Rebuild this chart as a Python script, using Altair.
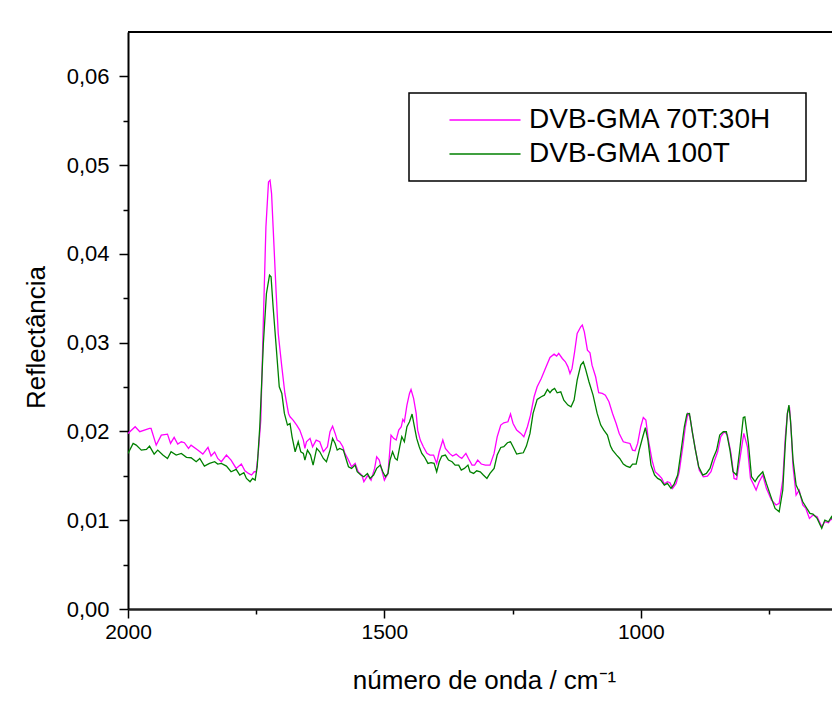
import altair as alt
import pandas as pd

series_names = ["DVB-GMA 70T:30H", "DVB-GMA 100T"]
series_colors = ["#ff00ff", "#008000"]

x_range = [2000, 627]
y_range = [0, 0.065]
x_ticks = [2000, 1750, 1500, 1250, 1000, 750]
y_ticks = [0, 0.005, 0.01, 0.015, 0.02, 0.025, 0.03, 0.035, 0.04, 0.045, 0.05, 0.055, 0.06]

wn_7030 = [2000, 1986, 1977, 1958, 1955, 1945, 1935, 1923, 1917, 1910, 1903, 1896, 1890, 1882, 1877, 1864, 1854, 1844, 1838, 1831, 1825, 1818, 1808, 1799, 1789, 1779,
           1772, 1765, 1759, 1754, 1750, 1746, 1741, 1736, 1731, 1726, 1723, 1720, 1717, 1711, 1707, 1700, 1694, 1687, 1684, 1678, 1671, 1665, 1658, 1655, 1652, 1645, 1640, 1633, 1626, 1619, 1611, 1606, 1601, 1596, 1592, 1587, 1581, 1577, 1570, 1564, 1557, 1551, 1544, 1540,
           1532, 1526, 1519, 1515, 1510, 1505, 1500, 1493, 1487, 1482, 1477, 1472, 1467, 1464, 1461, 1456, 1451, 1448, 1443, 1438, 1435, 1430, 1424, 1417, 1411, 1404, 1398, 1393, 1386, 1381, 1373, 1367, 1360, 1354, 1349, 1341, 1336, 1329, 1324, 1318, 1311, 1303, 1294,
           1286, 1280, 1273, 1267, 1259, 1254, 1249, 1242, 1234, 1228, 1221, 1215, 1208, 1202, 1194, 1186, 1177, 1169, 1164, 1160, 1153, 1147, 1142, 1138, 1134, 1129, 1124, 1117, 1114, 1110, 1104, 1099, 1095, 1088, 1082, 1075, 1069, 1062,
           1055, 1048, 1042, 1034, 1028, 1021, 1016, 1011, 1006, 1000, 995, 990, 985, 978, 972, 965, 959, 954, 948, 943, 938, 931, 925, 918, 913, 908, 904, 899, 892, 886, 878, 870, 863, 857, 850, 844, 837, 831, 824, 818,
           813, 807, 799, 792, 786, 781, 775, 769, 762, 755, 745, 736, 730, 723, 718, 714, 710, 707, 703, 697, 691, 684, 678, 671, 664, 656, 647, 641, 634, 628, 621, 615, 611]
refl_7030 = [0.01978, 0.02053, 0.01997, 0.02034, 0.02034, 0.01846, 0.01959, 0.01970, 0.01865, 0.01933, 0.01858, 0.01884, 0.01873, 0.01809, 0.01846, 0.01790, 0.01745, 0.01820, 0.01723, 0.01768, 0.01696, 0.01659, 0.01734, 0.01678, 0.01584, 0.01633,
             0.01557, 0.01527, 0.01509, 0.01546, 0.01546, 0.01753, 0.02128, 0.03254, 0.04305, 0.04811, 0.04830, 0.04680, 0.04305, 0.03554, 0.03104, 0.02728, 0.02428, 0.02203, 0.02165, 0.02128, 0.02072, 0.02015, 0.01903, 0.01809, 0.01884, 0.01922, 0.01828, 0.01903, 0.01884, 0.01771, 0.01828, 0.01997, 0.02060, 0.01978, 0.01903, 0.01884, 0.01828, 0.01753, 0.01678, 0.01603, 0.01640, 0.01546, 0.01509, 0.01434,
             0.01509, 0.01452, 0.01584, 0.01715, 0.01678, 0.01565, 0.01452, 0.01527, 0.01959, 0.01922, 0.01903, 0.02015, 0.02053, 0.02135, 0.02109, 0.02297, 0.02428, 0.02473, 0.02372, 0.02203, 0.02015, 0.01903, 0.01828, 0.01753, 0.01734, 0.01734, 0.01640, 0.01771, 0.01903, 0.01809, 0.01753, 0.01723, 0.01745, 0.01715, 0.01696, 0.01753, 0.01696, 0.01621, 0.01621, 0.01678, 0.01633, 0.01621, 0.01621,
             0.01753, 0.01940, 0.02072, 0.02098, 0.02109, 0.02196, 0.02090, 0.02015, 0.01978, 0.01940, 0.02053, 0.02184, 0.02391, 0.02503, 0.02597, 0.02710, 0.02834, 0.02871, 0.02849, 0.02879, 0.02822, 0.02785, 0.02728, 0.02653, 0.02710, 0.02897, 0.03104, 0.03179, 0.03198, 0.03122, 0.02916, 0.02886, 0.02747, 0.02616, 0.02436, 0.02428, 0.02409, 0.02334,
             0.02203, 0.02090, 0.01978, 0.01884, 0.01873, 0.01865, 0.01790, 0.01783, 0.01865, 0.02053, 0.02158, 0.02128, 0.01903, 0.01678, 0.01546, 0.01509, 0.01471, 0.01407, 0.01434, 0.01422, 0.01359, 0.01415, 0.01546, 0.01828, 0.02053, 0.02203, 0.02165, 0.01978, 0.01753, 0.01565, 0.01490, 0.01497, 0.01546, 0.01659, 0.01771, 0.01940, 0.01997, 0.01959, 0.01753, 0.01471,
             0.01460, 0.01678, 0.01978, 0.01828, 0.01471, 0.01415, 0.01340, 0.01434, 0.01509, 0.01359, 0.01227, 0.01171, 0.01190, 0.01452, 0.01940, 0.02203, 0.02278, 0.02053, 0.01603, 0.01284, 0.01340, 0.01171, 0.01133, 0.01021, 0.01058, 0.01040, 0.00927, 0.00983, 0.00972, 0.01021, 0.00946, 0.01040, 0.01040]

wn_100 = [2000, 1990, 1984, 1974, 1964, 1958, 1949, 1942, 1932, 1923, 1916, 1906, 1896, 1886, 1877, 1867, 1860, 1851, 1841, 1831, 1825, 1818, 1808, 1799, 1789, 1782, 1774,
          1769, 1762, 1757, 1752, 1748, 1743, 1736, 1730, 1724, 1721, 1717, 1711, 1705, 1700, 1695, 1689, 1684, 1680, 1674, 1668, 1663, 1658, 1655, 1650, 1644, 1639, 1632, 1626, 1619, 1613, 1606, 1601, 1596, 1592, 1587, 1580, 1575, 1570, 1564, 1557, 1553, 1546, 1540, 1533,
          1528, 1521, 1515, 1508, 1503, 1498, 1493, 1489, 1484, 1479, 1475, 1470, 1466, 1461, 1456, 1451, 1446, 1442, 1437, 1432, 1427, 1422, 1415, 1409, 1403, 1398, 1393, 1388, 1381, 1375, 1368, 1362, 1355, 1350, 1344, 1337, 1333, 1326, 1320, 1313, 1307, 1300, 1294,
          1286, 1280, 1273, 1267, 1260, 1254, 1249, 1242, 1236, 1229, 1223, 1216, 1210, 1202, 1194, 1188, 1182, 1177, 1173, 1168, 1163, 1156, 1150, 1142, 1136, 1130, 1124, 1117, 1112, 1108, 1101, 1093, 1085, 1078, 1072, 1065, 1059,
          1055, 1047, 1041, 1034, 1028, 1021, 1016, 1009, 1003, 996, 991, 986, 980, 973, 967, 961, 954, 948, 941, 935, 928, 922, 915, 910, 905, 900, 894, 887, 879, 872, 865, 859, 852, 846, 839, 833, 826, 820,
          813, 807, 800, 797, 790, 784, 777, 771, 762, 755, 745, 738, 730, 723, 718, 714, 711, 708, 703, 697, 691, 684, 678, 670, 664, 656, 647, 641, 634, 628, 621, 615, 611]
refl_100 = [0.01753, 0.01865, 0.01846, 0.01790, 0.01798, 0.01835, 0.01745, 0.01790, 0.01734, 0.01696, 0.01771, 0.01734, 0.01753, 0.01708, 0.01704, 0.01659, 0.01696, 0.01610, 0.01640, 0.01659, 0.01633, 0.01640, 0.01610, 0.01546, 0.01573, 0.01509, 0.01535,
            0.01471, 0.01434, 0.01471, 0.01452, 0.01603, 0.02053, 0.02991, 0.03554, 0.03760, 0.03742, 0.03404, 0.02954, 0.02503, 0.02428, 0.02203, 0.02072, 0.02090, 0.01940, 0.01771, 0.01884, 0.01771, 0.01753, 0.01678, 0.01790, 0.01734, 0.01621, 0.01809, 0.01771, 0.01696, 0.01659, 0.01790, 0.01922, 0.01865, 0.01790, 0.01809, 0.01790, 0.01696, 0.01603, 0.01584, 0.01621, 0.01546, 0.01509, 0.01490, 0.01527,
            0.01471, 0.01509, 0.01584, 0.01621, 0.01546, 0.01490, 0.01527, 0.01678, 0.01771, 0.01696, 0.01678, 0.01828, 0.01940, 0.01884, 0.02053, 0.02109, 0.02196, 0.02072, 0.01922, 0.01828, 0.01753, 0.01715, 0.01640, 0.01648, 0.01640, 0.01546, 0.01659, 0.01723, 0.01734, 0.01678, 0.01659, 0.01621, 0.01621, 0.01565, 0.01584, 0.01621, 0.01546, 0.01527, 0.01557, 0.01546, 0.01509, 0.01471, 0.01527,
            0.01584, 0.01734, 0.01820, 0.01828, 0.01873, 0.01884, 0.01828, 0.01745, 0.01753, 0.01760, 0.01835, 0.01978, 0.02203, 0.02361, 0.02391, 0.02409, 0.02473, 0.02436, 0.02466, 0.02484, 0.02436, 0.02447, 0.02353, 0.02297, 0.02278, 0.02353, 0.02578, 0.02747, 0.02785, 0.02710, 0.02560, 0.02409, 0.02203, 0.02072, 0.02015, 0.01959, 0.01835,
            0.01790, 0.01734, 0.01696, 0.01633, 0.01610, 0.01595, 0.01633, 0.01633, 0.01790, 0.01940, 0.02042, 0.01903, 0.01621, 0.01509, 0.01471, 0.01452, 0.01396, 0.01415, 0.01359, 0.01407, 0.01509, 0.01753, 0.02053, 0.02196, 0.02203, 0.02015, 0.01809, 0.01603, 0.01509, 0.01527, 0.01584, 0.01696, 0.01790, 0.01959, 0.01997, 0.01997, 0.01790, 0.01546,
            0.01509, 0.01790, 0.02158, 0.02165, 0.01865, 0.01490, 0.01434, 0.01490, 0.01546, 0.01415, 0.01246, 0.01133, 0.01096, 0.01340, 0.01865, 0.02203, 0.02297, 0.02128, 0.01678, 0.01396, 0.01321, 0.01208, 0.01152, 0.01077, 0.01070, 0.01021, 0.00908, 0.01002, 0.00983, 0.01040, 0.00927, 0.00983, 0.00946]

df_a = pd.DataFrame({"wn": wn_7030, "refl": refl_7030, "serie": series_names[0]})
df_b = pd.DataFrame({"wn": wn_100, "refl": refl_100, "serie": series_names[1]})

FONT = "Liberation Sans"
BLANK = "\u2800"

x_enc = alt.X(
    "wn:Q",
    scale=alt.Scale(domain=x_range, nice=False, zero=False),
    axis=alt.Axis(
        values=x_ticks,
        format="d",
        labelExpr="datum.value % 500 === 0 ? datum.label : ''",
        labelFlush=False,
        labelOverlap=False,
        tickSize={"condition": {"test": "datum.value % 500 === 0", "value": 9}, "value": 5},
        tickWidth=1.5,
        tickColor="black",
        domainColor="#222222",
        domainWidth=2.5,
        labelFontSize=21,
        labelColor="black",
        labelPadding=3,
        grid=False,
        title="número de onda / cm⁻¹",
        titleFontSize=26,
        titleFontWeight="normal",
        titleColor="black",
        titleX=356,
        titleY=79,
        titleBaseline="alphabetic",
        titleAlign="center",
    ),
)

y_test = "abs(datum.value * 100 - round(datum.value * 100)) < 0.000001"
y_enc = alt.Y(
    "refl:Q",
    scale=alt.Scale(domain=y_range, nice=False, zero=True),
    axis=alt.Axis(
        values=y_ticks,
        labelExpr=f"{y_test} ? replace(format(datum.value, '.2f'), '.', ',') : ''",
        labelFlush=False,
        labelOverlap=False,
        tickSize={"condition": {"test": y_test, "value": 9}, "value": 5},
        tickWidth=1.5,
        tickColor="black",
        domainColor="black",
        domainWidth=2,
        labelFontSize=22,
        labelColor="black",
        labelPadding=10,
        grid=False,
        title="Reflectância",
        titleFontSize=26,
        titleFontWeight="normal",
        titleColor="black",
        titleAngle=270,
        titleX=-92,
        titleY=305,
        titleBaseline="middle",
        titleAlign="center",
    ),
)

color_enc = alt.Color(
    "serie:N",
    scale=alt.Scale(domain=series_names, range=series_colors),
    legend=alt.Legend(
        title=None,
        orient="none",
        legendX=281,
        legendY=61,
        direction="vertical",
        symbolType="M-5,0H5",
        symbolSize=202,
        symbolStrokeWidth=1.5,
        labelFontSize=28,
        labelFont=FONT,
        labelColor="black",
        labelLimit=0,
        labelOffset=30,
        labelExpr=f"datum.label + '{BLANK}'",
        padding=13,
        symbolOffset=49,
        rowPadding=6,
        strokeColor="black",
        fillColor="white",
    ),
)

top_df = pd.DataFrame({"top": [y_range[1]]})
top_rule = alt.Chart(top_df).mark_rule(color="black", strokeWidth=2).encode(y="top:Q")

line_a = alt.Chart(df_a).mark_line(strokeWidth=1.3, clip=True).encode(x=x_enc, y=y_enc, color=color_enc)
line_b = alt.Chart(df_b).mark_line(strokeWidth=1.3, clip=True).encode(x=x_enc, y=y_enc, color=color_enc)

chart = (
    alt.layer(top_rule, line_a, line_b)
    .properties(
        width=704,
        height=577,
        autosize=alt.AutoSizeParams(type="none"),
        padding={"left": 120, "top": 24, "right": 0, "bottom": 85},
    )
    .configure(font=FONT)
    .configure_view(stroke=None)
    .configure_legend(strokeWidth=1.5)
)

chart.save("out.html", embed_options={"renderer": "svg", "actions": False})
